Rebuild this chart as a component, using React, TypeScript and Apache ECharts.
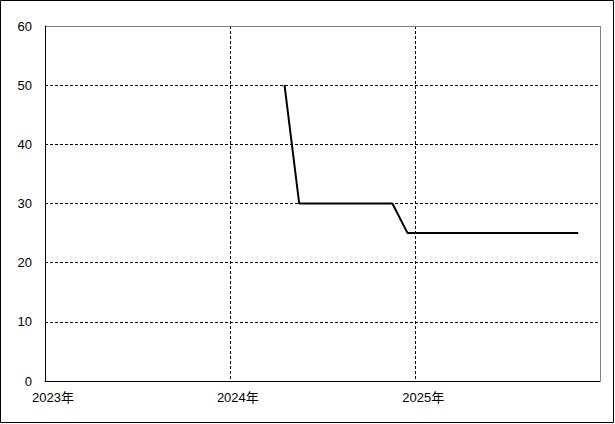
import React, { useEffect, useRef } from "react";
import * as echarts from "echarts";

const dates = ["2024-04-18", "2024-05-17", "2024-11-17", "2024-12-17", "2025-11-19"];
const values = [50, 30, 30, 25, 25];
const xMin = "2023-01-01";
const xMax = "2026-01-01";
const yTicks = [0, 10, 20, 30, 40, 50, 60];

const FONT = "'Liberation Sans', 'Noto Sans CJK JP', sans-serif";

export default function App() {
  const ref = useRef<HTMLDivElement>(null);
  useEffect(() => {
    document.body.style.margin = "0";
    const chart = echarts.init(ref.current!, null, { renderer: "svg" });
    const data = dates.map((d, i) => [new Date(d + "T00:00:00").getTime(), values[i]]);
    chart.setOption({
      animation: false,
      backgroundColor: "#fff",
      grid: { left: 45, top: 26, right: 15, bottom: 43, containLabel: false },
      xAxis: {
        type: "time",
        min: new Date(xMin + "T00:00:00").getTime(),
        max: new Date(xMax + "T00:00:00").getTime(),
        minInterval: 365 * 24 * 3600 * 1000,
        splitNumber: 3,
        axisLine: { show: true, lineStyle: { color: "#000", width: 1 } },
        axisTick: { show: false },
        splitLine: { show: true, lineStyle: { color: "#000", type: [3, 2], width: 1 } },
        axisLabel: {
          color: "#000",
          fontSize: 13,
          fontFamily: FONT,
          margin: 10,
          padding: [0, 0, 0, 16],
          showMaxLabel: false,
          formatter: (v: number) => {
            const y = new Date(v).getFullYear();
            return y >= 2026 ? "" : y + "年";
          },
        },
      },
      yAxis: {
        type: "value",
        min: yTicks[0],
        max: yTicks[yTicks.length - 1],
        interval: 10,
        axisLine: { show: true, lineStyle: { color: "#000", width: 1 } },
        axisTick: { show: false },
        splitLine: { show: true, lineStyle: { color: "#000", type: [3, 2], width: 1 } },
        axisLabel: { color: "#000", fontSize: 13, fontFamily: FONT, margin: 13 },
      },
      graphic: [
        {
          type: "rect",
          z: 100,
          shape: { x: 0.5, y: 0.5, width: 613, height: 422 },
          style: { fill: "none", stroke: "#000", lineWidth: 1 },
        },
        {
          type: "line",
          z: 100,
          shape: { x1: 46, y1: 26.5, x2: 600, y2: 26.5 },
          style: { stroke: "#808080", lineWidth: 1 },
        },
        {
          type: "line",
          z: 100,
          shape: { x1: 600.5, y1: 26, x2: 600.5, y2: 381 },
          style: { stroke: "#808080", lineWidth: 1 },
        },
      ],
      series: [
        {
          type: "line",
          data,
          showSymbol: false,
          symbol: "none",
          lineStyle: { color: "#000", width: 2 },
        },
      ],
    });
    return () => chart.dispose();
  }, []);
  return <div ref={ref} style={{ width: 615, height: 424, position: "absolute", left: 0, top: 0 }} />;
}
